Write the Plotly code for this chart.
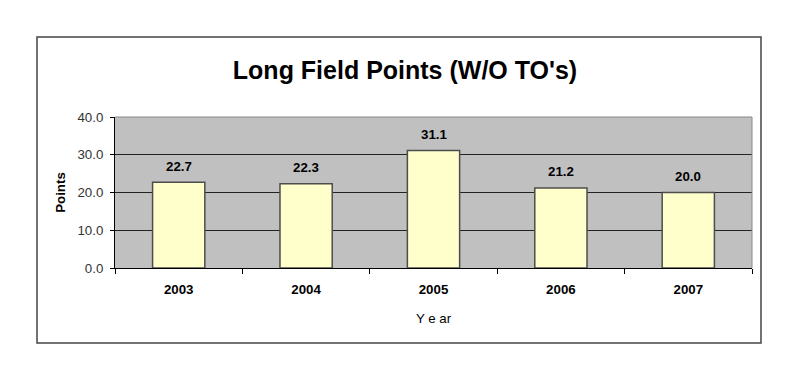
import plotly.graph_objects as go

years = ["2003", "2004", "2005", "2006", "2007"]
points = [22.7, 22.3, 31.1, 21.2, 20.0]
y_ticks = [0, 10, 20, 30, 40]
y_tick_labels = ["0.0", "10.0", "20.0", "30.0", "40.0"]

FONT = "Arial, Liberation Sans, sans-serif"
LBL = 13.3

fig = go.Figure()
fig.add_trace(go.Bar(
    x=years, y=points,
    marker=dict(color="#FFFFCC", line=dict(color="#4d4d4d", width=1.5)),
    cliponaxis=False,
))

for i, v in enumerate(points):
    fig.add_annotation(
        x=i, y=v, xref="x", yref="y",
        text=f"<b>{v:.1f}</b>", showarrow=False,
        yanchor="middle", xanchor="center", yshift=16,
        font=dict(family=FONT, size=LBL, color="#000000"),
    )

L, R, T, B = 107, 744, 109, 260
W, H = 800, 371
pw, ph = R - L, B - T

def px_x(x):
    return (x - L) / pw

def px_y(y):
    return (B - y) / ph

fig.update_layout(
    width=W, height=H,
    margin=dict(l=L, r=W - R, t=T, b=H - B, pad=0),
    paper_bgcolor="white",
    plot_bgcolor="#C0C0C0",
    bargap=0.59,
    showlegend=False,
    title=dict(text="<b>Long Field Points (W/O TO's)</b>",
               font=dict(family=FONT, size=25, color="#000000"),
               x=397 / W, xanchor="center", y=1 - 62 / H, yanchor="middle"),
    xaxis=dict(
        type="category",
        categoryorder="array", categoryarray=years,
        range=[-0.5, len(years) - 0.5],
        tickson="boundaries",
        ticks="outside", ticklen=5, tickcolor="#000000",
        showline=True, linecolor="#000000", linewidth=1,
        tickfont=dict(family=FONT, size=LBL, color="#000000", weight="bold"),
        tickangle=0,
        ticklabelstandoff=9,
        title=dict(text="Y e ar", font=dict(family=FONT, size=LBL, color="#000000"), standoff=17),
        showgrid=False,
    ),
    yaxis=dict(
        range=[0, 40],
        tickvals=y_ticks, ticktext=y_tick_labels,
        ticks="outside", ticklen=4, tickcolor="#000000",
        showline=True, linecolor="#000000", linewidth=1,
        showgrid=True, gridcolor="#222222", gridwidth=1,
        tickfont=dict(family=FONT, size=LBL, color="#333333"),
        ticklabelstandoff=4,
        title=dict(text="<b>Points</b>", font=dict(family=FONT, size=LBL, color="#000000"), standoff=8),
        zeroline=False,
    ),
    shapes=[
        dict(type="rect", xref="paper", yref="paper",
             x0=px_x(29), x1=px_x(753), y0=px_y(335), y1=px_y(29),
             line=dict(color="#444444", width=1.5), fillcolor="rgba(0,0,0,0)", layer="below"),
        dict(type="line", xref="paper", yref="paper",
             x0=0, x1=1, y0=1, y1=1, line=dict(color="#888888", width=1)),
        dict(type="line", xref="paper", yref="paper",
             x0=1, x1=1, y0=0, y1=1, line=dict(color="#888888", width=1)),
    ],
)

fig.write_html("out.html")
